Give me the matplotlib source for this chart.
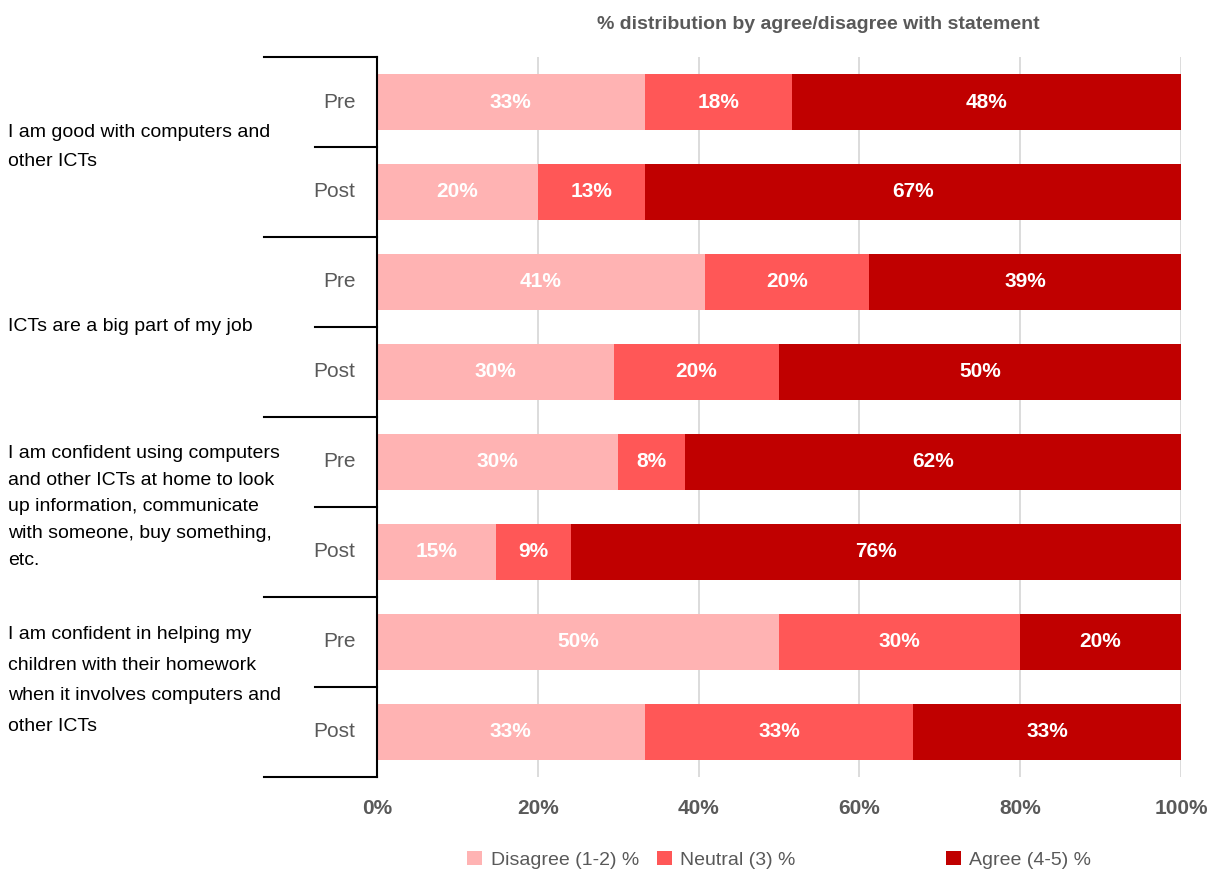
import matplotlib.pyplot as plt
from matplotlib.patches import Patch
from matplotlib.ticker import PercentFormatter

plt.rcParams['font.family'] = ['Liberation Sans Narrow', 'Liberation Sans', 'DejaVu Sans']

statements = [
    "I am good with computers and\nother ICTs",
    "ICTs are a big part of my job",
    "I am confident using computers\nand other ICTs at home to look\nup information, communicate\nwith someone, buy something,\netc.",
    "I am confident in helping my\nchildren with their homework\nwhen it involves computers and\nother ICTs",
]
phases = ["Pre", "Post"] * 4

# percent per row, top to bottom (Pre/Post for each statement)
disagree = [33.3, 20.0, 40.8, 29.5, 30.0, 14.8, 50.0, 33.3]
neutral = [18.3, 13.3, 20.4, 20.5, 8.3, 9.3, 30.0, 33.4]
agree = [48.4, 66.7, 38.8, 50.0, 61.7, 75.9, 20.0, 33.3]

series = [
    ("Disagree (1-2) %", disagree, "#FFB3B3"),
    ("Neutral (3) %", neutral, "#FF5757"),
    ("Agree (4-5) %", agree, "#C00000"),
]

gray = "#595959"

fig = plt.figure(figsize=(12.09, 8.73), dpi=100)
ax = fig.add_axes([0.3118, 0.11, 0.665, 0.8247])

rows = list(range(len(phases)))
left = [0.0] * len(rows)
for name, vals, color in series:
    ax.barh(rows, vals, left=left, height=0.62, color=color, label=name, zorder=2)
    for y, v, l in zip(rows, vals, left):
        ax.text(l + v / 2, y, f"{round(v)}%", ha="center", va="center",
                color="white", fontsize=15, fontweight="bold", zorder=3)
    left = [a + b for a, b in zip(left, vals)]

ax.set_xlim(0, 100)
ax.set_ylim(len(rows) - 0.5, -0.5)
ax.xaxis.set_major_formatter(PercentFormatter(decimals=0))
ax.set_xticks([0, 20, 40, 60, 80, 100])
ax.tick_params(axis="x", length=0, pad=16, labelsize=15, labelcolor=gray)
for t in ax.get_xticklabels():
    t.set_fontweight("bold")
ax.set_yticks([])
ax.grid(axis="x", color="#D9D9D9", linewidth=1.3, zorder=0)
for s in ["top", "right", "bottom"]:
    ax.spines[s].set_visible(False)
ax.spines["left"].set_linewidth(1.5)
ax.spines["left"].set_zorder(4)

# Pre / Post labels and the bracket lines on the left
trans = ax.get_yaxis_transform()
for y, p in zip(rows, phases):
    ax.text(-0.027, y, p, transform=trans, ha="right", va="center",
            fontsize=15, color=gray)
for k in range(len(statements) + 1):
    ax.plot([-0.1405, 0], [2 * k - 0.5] * 2, transform=trans, color="black",
            linewidth=1.5, clip_on=False)
spacing = [1.9, 1.0, 1.75, 2.05]
shift = [0.0, 0.0, 0.0, -0.07]
for k in range(len(statements)):
    ax.plot([-0.077, 0], [2 * k + 0.5] * 2, transform=trans, color="black",
            linewidth=1.5, clip_on=False)
    ax.text(-0.459, 2 * k + 0.5 + shift[k], statements[k], transform=trans,
            ha="left", va="center", fontsize=14, color="black",
            linespacing=spacing[k])

fig.text(0.677, 0.972, "% distribution by agree/disagree with statement",
         ha="center", va="center", fontsize=14, fontweight="bold", color=gray)

# legend entries spaced out along the bottom
for (name, vals, color), x in zip(series, [0.380, 0.537, 0.776]):
    fig.legend(handles=[Patch(facecolor=color, label=name)],
               loc="center left", bbox_to_anchor=(x, 0.015), frameon=False,
               handlelength=0.75, handleheight=0.75, handletextpad=0.45,
               prop={"size": 14}, labelcolor=gray, borderaxespad=0)

fig.savefig("out.png", dpi=100)
